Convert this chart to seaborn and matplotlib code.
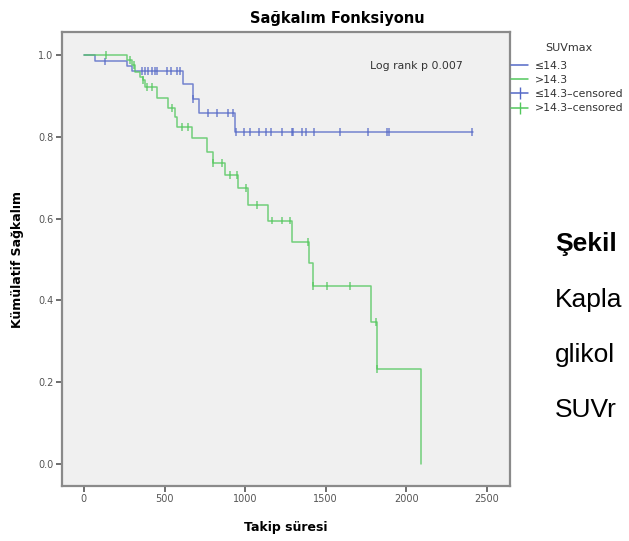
import matplotlib
matplotlib.use("Agg")
import matplotlib.pyplot as plt
from matplotlib.lines import Line2D
import numpy as np
import pandas as pd
import seaborn as sns

# Kaplan-Meier steps
blue_times = [0, 68, 267, 298, 614, 676, 713, 936, 2412]
blue_surv = [1.0, 0.984, 0.973, 0.961, 0.929, 0.892, 0.858, 0.812, 0.812]
blue_cens_t = [130, 360, 378, 397, 422, 440, 452, 515, 540, 577, 595, 676,
               769, 825, 893, 924, 942, 990, 1030, 1085, 1130, 1160, 1230,
               1290, 1300, 1350, 1380, 1430, 1590, 1760, 1880, 1890, 2410]
blue_cens_s = [0.984, 0.961, 0.961, 0.961, 0.961, 0.961, 0.961, 0.961, 0.961,
               0.961, 0.961, 0.892, 0.858, 0.858, 0.858, 0.858, 0.812, 0.812,
               0.812, 0.812, 0.812, 0.812, 0.812, 0.812, 0.812, 0.812, 0.812,
               0.812, 0.812, 0.812, 0.812, 0.812, 0.812]

green_times = [0, 267, 300, 316, 347, 366, 378, 453, 521, 565, 577, 670, 763,
               800, 874, 955, 1016, 1141, 1290, 1395, 1420, 1779, 1817, 2089]
green_surv = [1.0, 0.988, 0.976, 0.958, 0.946, 0.939, 0.922, 0.895, 0.870,
              0.848, 0.824, 0.797, 0.763, 0.736, 0.707, 0.675, 0.633, 0.595,
              0.543, 0.491, 0.435, 0.347, 0.232, 0.0]
green_cens_t = [136, 285, 310, 366, 390, 422, 546, 608, 645, 800, 856, 905,
                949, 1005, 1073, 1166, 1228, 1277, 1389, 1420, 1507, 1649,
                1810, 1817]
green_cens_s = [1.0, 0.988, 0.976, 0.939, 0.922, 0.922, 0.870, 0.824, 0.824,
                0.736, 0.736, 0.707, 0.707, 0.675, 0.633, 0.595, 0.595, 0.595,
                0.543, 0.435, 0.435, 0.435, 0.347, 0.232]

groups = ["≤14.3", ">14.3"]
colors = {"≤14.3": "#5468c6", ">14.3": "#52c75c"}
x_ticks = [0, 500, 1000, 1500, 2000, 2500]
y_ticks = [0.0, 0.2, 0.4, 0.6, 0.8, 1.0]

curve = pd.concat([
    pd.DataFrame({"time": blue_times, "surv": blue_surv, "grp": groups[0]}),
    pd.DataFrame({"time": green_times, "surv": green_surv, "grp": groups[1]}),
])
cens = pd.concat([
    pd.DataFrame({"time": blue_cens_t, "surv": blue_cens_s, "grp": groups[0]}),
    pd.DataFrame({"time": green_cens_t, "surv": green_cens_s, "grp": groups[1]}),
])

sns.set_theme(style="ticks", rc={"axes.facecolor": "#f0f0f0",
                                 "axes.edgecolor": "#8a8a8a",
                                 "axes.linewidth": 1.6,
                                 "text.color": "black",
                                 "axes.labelcolor": "black"})
plt.rcParams["font.family"] = ["DejaVu Sans"]

fig = plt.figure(figsize=(6.29, 5.41), dpi=100)
ax = fig.add_axes([62 / 629, 1 - 486 / 541, 448 / 629, 454 / 541])

sns.lineplot(data=curve, x="time", y="surv", hue="grp", palette=colors,
             drawstyle="steps-post", estimator=None, sort=False,
             linewidth=1.1, alpha=0.8, legend=False, ax=ax)
sns.scatterplot(data=cens, x="time", y="surv", hue="grp", palette=colors,
                marker="|", s=30, linewidth=1.1, alpha=0.8, legend=False, ax=ax)

ax.set_xlim(-136, 2643)
ax.set_ylim(-0.054, 1.056)
ax.set_xticks(x_ticks)
ax.set_xticklabels([str(v) for v in x_ticks])
ax.set_yticks(y_ticks)
ax.set_yticklabels([f"{v:.1f}" for v in y_ticks])
ax.tick_params(axis="both", length=4, width=1.2, color="#555555",
               labelsize=7, labelcolor="#555555", pad=2)
for s in ax.spines.values():
    s.set_visible(True)

ax.set_xlabel("Takip süresi", fontsize=9, fontweight="bold", labelpad=12)
ax.set_ylabel("Kümülatif Sağkalım", fontsize=9, fontweight="bold", labelpad=10)
fig.text(337 / 629, 1 - 18 / 541, "Sağkalım Fonksiyonu", ha="center",
         va="center", fontsize=10.5, fontweight="bold")
ax.text(0.79, 0.925, "Log rank p 0.007", transform=ax.transAxes, ha="center",
        va="center", fontsize=7.8, color="#333333")

handles = [
    Line2D([], [], color=colors[groups[0]], lw=1.1),
    Line2D([], [], color=colors[groups[1]], lw=1.1),
    Line2D([], [], color=colors[groups[0]], lw=1.1, marker="|", markersize=9),
    Line2D([], [], color=colors[groups[1]], lw=1.1, marker="|", markersize=9),
]
labels = [groups[0], groups[1], groups[0] + "–censored", groups[1] + "–censored"]
fig.text(569 / 629, 1 - 48 / 541, "SUVmax", ha="center", va="center",
         fontsize=8, color="#333333")
leg = fig.legend(handles, labels, loc="upper left",
                 bbox_to_anchor=(511 / 629, 1 - 61 / 541), frameon=False,
                 fontsize=7.8, handlelength=1.6,
                 handletextpad=0.6, labelspacing=0.38, borderaxespad=0,
                 borderpad=0)
for t in leg.get_texts():
    t.set_color("#333333")

side_font = ["Liberation Sans", "DejaVu Sans"]
fig.text(555 / 629, 1 - 244 / 541, "Şekil", fontsize=19, fontweight="bold",
         family=side_font, va="center", color="black")
for word, ypx in zip(["Kapla", "glikol", "SUVr"], [300, 355, 410]):
    fig.text(555 / 629, 1 - ypx / 541, word, fontsize=19, family=side_font,
             va="center", color="black")

fig.savefig("out.png", dpi=100, facecolor="white")
